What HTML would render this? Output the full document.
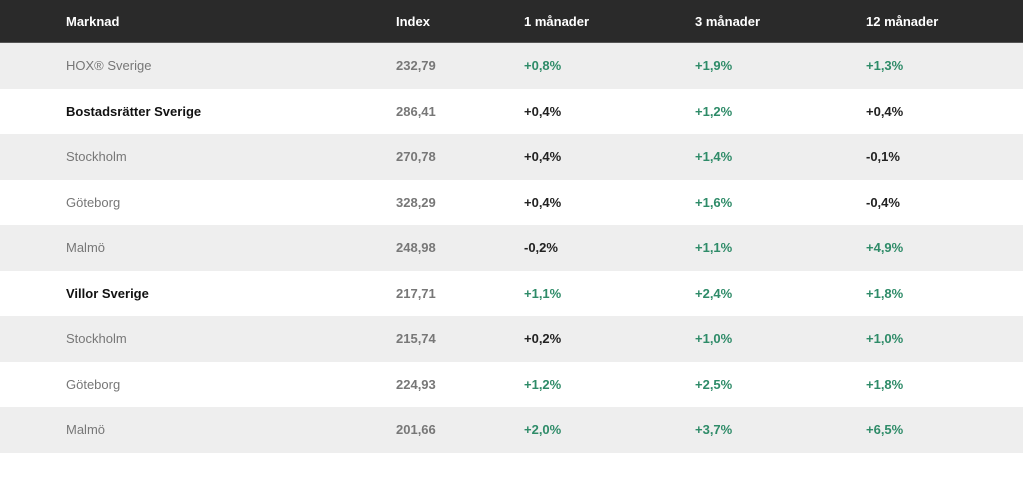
<!DOCTYPE html>
<html><head><meta charset="utf-8"><style>
body{margin:0;width:1023px;height:477px;background:#fff;font-family:"Liberation Sans",sans-serif;font-size:13px;overflow:hidden}
table{border-collapse:collapse;width:1023px;table-layout:fixed}
td,th{padding:0;text-align:left;white-space:nowrap}
th{background:#2a2a2a;color:#fff;height:42px;font-weight:bold;border-bottom:1px solid #555}
tr.r td{height:45.5px}
tr.g td{background:#eeeeee}
.c0{padding-left:66px}
.n{color:#777}
.b{color:#111;font-weight:bold}
.ix{color:#777;font-weight:bold}
.up{color:#2e8b68;font-weight:bold}
.k{color:#222;font-weight:bold}
</style></head><body>
<table>
<colgroup><col style="width:396px"><col style="width:128px"><col style="width:171px"><col style="width:171px"><col style="width:157px"></colgroup>
<tr><th class="c0">Marknad</th><th>Index</th><th>1 månader</th><th>3 månader</th><th>12 månader</th></tr>
<tr class="r g"><td class="c0 n">HOX® Sverige</td><td class="ix">232,79</td><td class="up">+0,8%</td><td class="up">+1,9%</td><td class="up">+1,3%</td></tr>
<tr class="r"><td class="c0 b">Bostadsrätter Sverige</td><td class="ix">286,41</td><td class="k">+0,4%</td><td class="up">+1,2%</td><td class="k">+0,4%</td></tr>
<tr class="r g"><td class="c0 n">Stockholm</td><td class="ix">270,78</td><td class="k">+0,4%</td><td class="up">+1,4%</td><td class="k">-0,1%</td></tr>
<tr class="r"><td class="c0 n">Göteborg</td><td class="ix">328,29</td><td class="k">+0,4%</td><td class="up">+1,6%</td><td class="k">-0,4%</td></tr>
<tr class="r g"><td class="c0 n">Malmö</td><td class="ix">248,98</td><td class="k">-0,2%</td><td class="up">+1,1%</td><td class="up">+4,9%</td></tr>
<tr class="r"><td class="c0 b">Villor Sverige</td><td class="ix">217,71</td><td class="up">+1,1%</td><td class="up">+2,4%</td><td class="up">+1,8%</td></tr>
<tr class="r g"><td class="c0 n">Stockholm</td><td class="ix">215,74</td><td class="k">+0,2%</td><td class="up">+1,0%</td><td class="up">+1,0%</td></tr>
<tr class="r"><td class="c0 n">Göteborg</td><td class="ix">224,93</td><td class="up">+1,2%</td><td class="up">+2,5%</td><td class="up">+1,8%</td></tr>
<tr class="r g"><td class="c0 n">Malmö</td><td class="ix">201,66</td><td class="up">+2,0%</td><td class="up">+3,7%</td><td class="up">+6,5%</td></tr>
</table>
</body></html>
